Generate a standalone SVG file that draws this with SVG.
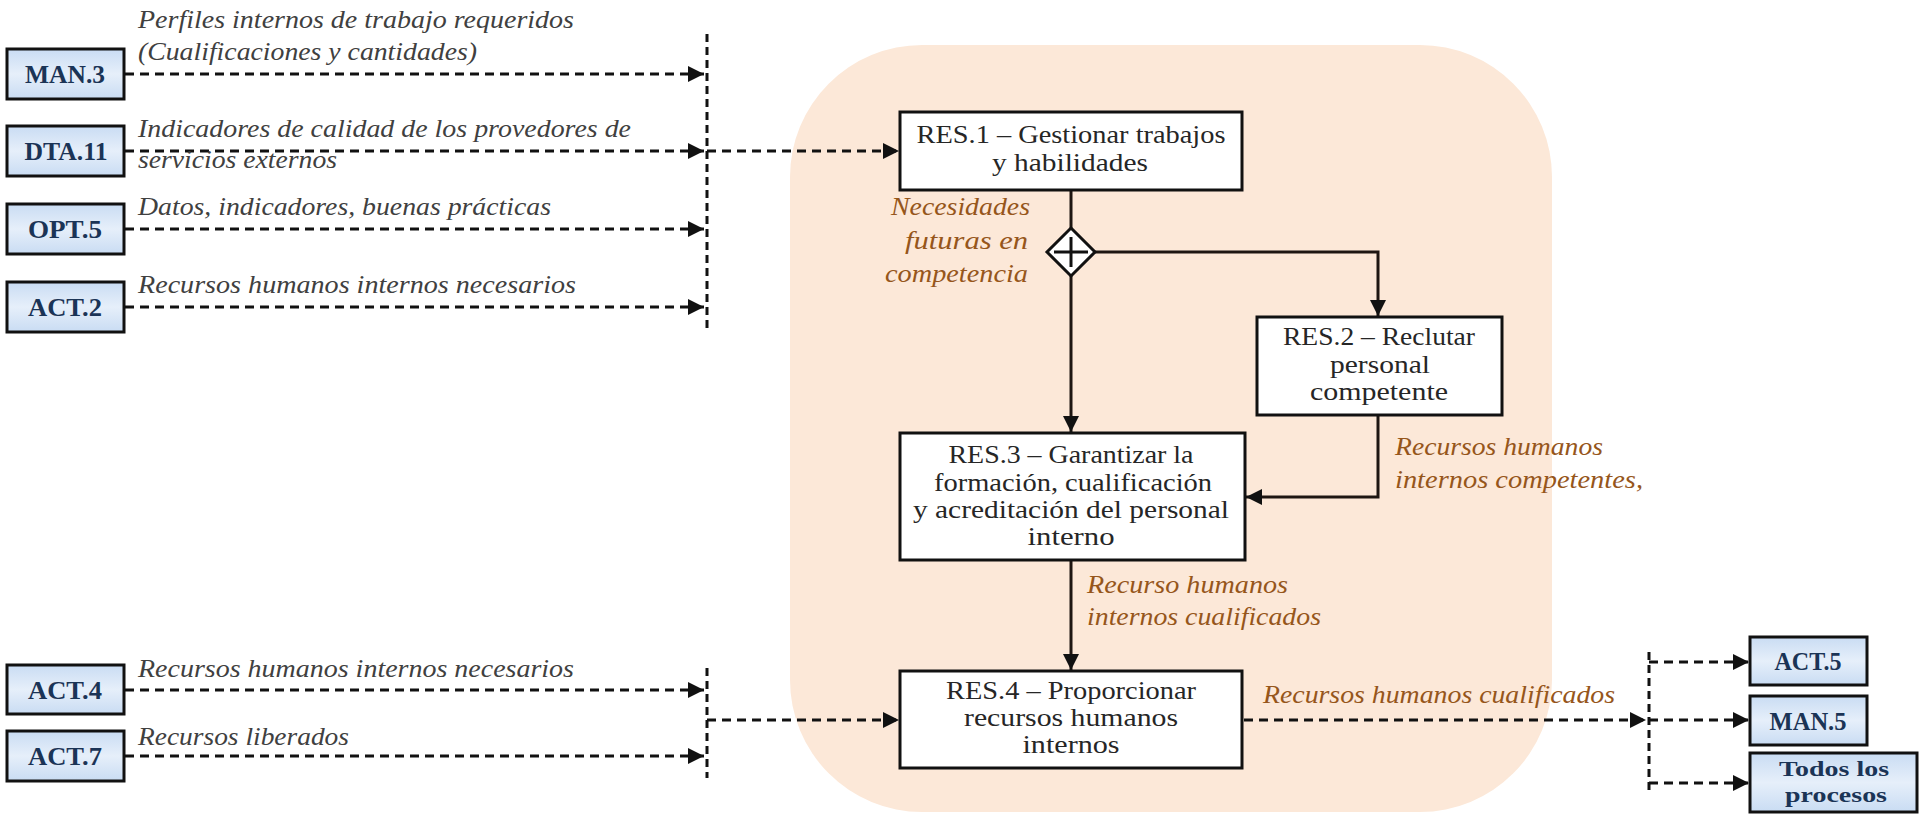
<svg xmlns="http://www.w3.org/2000/svg" width="1921" height="814" viewBox="0 0 1921 814">
  <defs>
    <linearGradient id="blueFill" x1="0" y1="0" x2="0" y2="1">
      <stop offset="0" stop-color="#c9dcf3"/>
      <stop offset="0.5" stop-color="#e6effa"/>
      <stop offset="1" stop-color="#c9dcf3"/>
    </linearGradient>
    <marker id="arrow" viewBox="0 0 10 10" refX="10" refY="5" markerWidth="16" markerHeight="16" markerUnits="userSpaceOnUse" orient="auto">
      <path d="M0,0 L10,5 L0,10 Z" fill="#111"/>
    </marker>
    <style>
      .ext rect { fill: url(#blueFill); stroke: #111; stroke-width: 3; }
      .ext text { font-family: "Liberation Serif", "DejaVu Serif", serif; font-weight: bold; font-size: 26px; fill: #1b3456; text-anchor: middle; }
      .ext text.small { font-size: 21px; }
      .proc rect { fill: #ffffff; stroke: #111; stroke-width: 3; }
      .proc text { font-family: "Liberation Serif", "DejaVu Serif", serif; font-size: 26px; fill: #262626; text-anchor: middle; }
      .flow { fill: none; stroke: #1e1612; stroke-width: 3; }
      .dash { fill: none; stroke: #111; stroke-width: 3; stroke-dasharray: 9 6; }
      .bus { fill: none; stroke: #111; stroke-width: 3; stroke-dasharray: 8 5; }
      .lbl { font-family: "Liberation Serif", "DejaVu Serif", serif; font-style: italic; font-size: 26px; fill: #404040; }
      .lbl-out { font-family: "Liberation Serif", "DejaVu Serif", serif; font-style: italic; font-size: 26px; fill: #96561b; }
    </style>
  </defs>

  <!-- process area background -->
  <rect id="process-area" x="790" y="45" width="762" height="767" rx="132" ry="132" fill="#fce8d8"/>

  <!-- connectors -->
  <g id="connectors">
    <!-- inputs on the left -->
    <line class="dash" x1="125" y1="74" x2="704" y2="74" marker-end="url(#arrow)"/>
    <line class="dash" x1="125" y1="151" x2="704" y2="151" marker-end="url(#arrow)"/>
    <line class="dash" x1="125" y1="229" x2="704" y2="229" marker-end="url(#arrow)"/>
    <line class="dash" x1="125" y1="307" x2="704" y2="307" marker-end="url(#arrow)"/>
    <line class="bus" x1="707" y1="34" x2="707" y2="331"/>
    <line class="dash" x1="707" y1="151" x2="899" y2="151" marker-end="url(#arrow)"/>

    <line class="dash" x1="125" y1="690" x2="704" y2="690" marker-end="url(#arrow)"/>
    <line class="dash" x1="125" y1="756" x2="704" y2="756" marker-end="url(#arrow)"/>
    <line class="bus" x1="707" y1="668" x2="707" y2="778"/>
    <line class="dash" x1="707" y1="720" x2="899" y2="720" marker-end="url(#arrow)"/>

    <!-- internal flow -->
    <line class="flow" x1="1071" y1="190" x2="1071" y2="228"/>
    <line class="flow" x1="1071" y1="276" x2="1071" y2="432" marker-end="url(#arrow)"/>
    <polyline class="flow" points="1095,252 1378,252 1378,316" marker-end="url(#arrow)"/>
    <polyline class="flow" points="1378,416 1378,497 1246,497" marker-end="url(#arrow)"/>
    <line class="flow" x1="1071" y1="561" x2="1071" y2="670" marker-end="url(#arrow)"/>

    <!-- outputs on the right -->
    <line class="dash" x1="1244" y1="720" x2="1646" y2="720" marker-end="url(#arrow)"/>
    <line class="bus" x1="1649" y1="652" x2="1649" y2="792"/>
    <line class="dash" x1="1649" y1="662" x2="1749" y2="662" marker-end="url(#arrow)"/>
    <line class="dash" x1="1649" y1="720" x2="1749" y2="720" marker-end="url(#arrow)"/>
    <line class="dash" x1="1649" y1="783" x2="1749" y2="783" marker-end="url(#arrow)"/>

    <!-- gateway -->
    <g id="gateway">
      <path d="M1071,228 L1095,252 L1071,276 L1047,252 Z" fill="#ffffff" stroke="#111" stroke-width="3"/>
      <line x1="1054" y1="252" x2="1088" y2="252" stroke="#111" stroke-width="3"/>
      <line x1="1071" y1="237" x2="1071" y2="267" stroke="#111" stroke-width="3"/>
    </g>
  </g>

  <!-- flow labels -->
  <g id="flow-labels">
    <text class="lbl" x="138" y="28" textLength="436" lengthAdjust="spacingAndGlyphs">Perfiles internos de trabajo requeridos</text>
    <text class="lbl" x="138" y="60" textLength="339" lengthAdjust="spacingAndGlyphs">(Cualificaciones y cantidades)</text>
    <text class="lbl" x="138" y="137" textLength="493" lengthAdjust="spacingAndGlyphs">Indicadores de calidad de los provedores de</text>
    <text class="lbl" x="138" y="168" textLength="199" lengthAdjust="spacingAndGlyphs">servicios externos</text>
    <text class="lbl" x="138" y="215" textLength="413" lengthAdjust="spacingAndGlyphs">Datos, indicadores, buenas prácticas</text>
    <text class="lbl" x="138" y="293" textLength="438" lengthAdjust="spacingAndGlyphs">Recursos humanos internos necesarios</text>
    <text class="lbl" x="138" y="677" textLength="436" lengthAdjust="spacingAndGlyphs">Recursos humanos internos necesarios</text>
    <text class="lbl" x="138" y="745" textLength="211" lengthAdjust="spacingAndGlyphs">Recursos liberados</text>

    <text class="lbl-out" x="1030" y="215" text-anchor="end" textLength="139" lengthAdjust="spacingAndGlyphs">Necesidades</text>
    <text class="lbl-out" x="1028" y="249" text-anchor="end" textLength="123" lengthAdjust="spacingAndGlyphs">futuras  en</text>
    <text class="lbl-out" x="1028" y="282" text-anchor="end" textLength="143" lengthAdjust="spacingAndGlyphs">competencia</text>
    <text class="lbl-out" x="1395" y="455" textLength="208" lengthAdjust="spacingAndGlyphs">Recursos humanos</text>
    <text class="lbl-out" x="1395" y="488" textLength="248" lengthAdjust="spacingAndGlyphs">internos competentes,</text>
    <text class="lbl-out" x="1087" y="593" textLength="201" lengthAdjust="spacingAndGlyphs">Recurso humanos</text>
    <text class="lbl-out" x="1087" y="625" textLength="234" lengthAdjust="spacingAndGlyphs">internos cualificados</text>
    <text class="lbl-out" x="1263" y="703" textLength="352" lengthAdjust="spacingAndGlyphs">Recursos humanos cualificados</text>
  </g>

  <!-- external processes -->
  <g id="MAN3" class="ext">
    <rect x="7" y="49" width="117" height="50"/>
    <text x="65" y="83" textLength="80" lengthAdjust="spacingAndGlyphs">MAN.3</text>
  </g>
  <g id="DTA11" class="ext">
    <rect x="7" y="126" width="117" height="50"/>
    <text x="66" y="160" textLength="83" lengthAdjust="spacingAndGlyphs">DTA.11</text>
  </g>
  <g id="OPT5" class="ext">
    <rect x="7" y="204" width="117" height="50"/>
    <text x="65" y="238" textLength="74" lengthAdjust="spacingAndGlyphs">OPT.5</text>
  </g>
  <g id="ACT2" class="ext">
    <rect x="7" y="282" width="117" height="50"/>
    <text x="65" y="316" textLength="74" lengthAdjust="spacingAndGlyphs">ACT.2</text>
  </g>
  <g id="ACT4" class="ext">
    <rect x="7" y="665" width="117" height="49"/>
    <text x="65" y="699" textLength="74" lengthAdjust="spacingAndGlyphs">ACT.4</text>
  </g>
  <g id="ACT7" class="ext">
    <rect x="7" y="731" width="117" height="50"/>
    <text x="65" y="765" textLength="74" lengthAdjust="spacingAndGlyphs">ACT.7</text>
  </g>
  <g id="ACT5" class="ext">
    <rect x="1750" y="637" width="117" height="48"/>
    <text x="1808" y="670" textLength="67" lengthAdjust="spacingAndGlyphs">ACT.5</text>
  </g>
  <g id="MAN5" class="ext">
    <rect x="1750" y="696" width="117" height="49"/>
    <text x="1808" y="730" textLength="77" lengthAdjust="spacingAndGlyphs">MAN.5</text>
  </g>
  <g id="todos-procesos" class="ext">
    <rect x="1750" y="753" width="167" height="59"/>
    <text class="small" x="1834" y="776" textLength="110" lengthAdjust="spacingAndGlyphs">Todos los</text>
    <text class="small" x="1836" y="802" textLength="102" lengthAdjust="spacingAndGlyphs">procesos</text>
  </g>

  <!-- RES processes -->
  <g id="RES1" class="proc">
    <rect x="900" y="112" width="342" height="78"/>
    <text x="1071" y="143" textLength="309" lengthAdjust="spacingAndGlyphs">RES.1 – Gestionar trabajos</text>
    <text x="1070" y="171" textLength="156" lengthAdjust="spacingAndGlyphs">y habilidades</text>
  </g>
  <g id="RES2" class="proc">
    <rect x="1257" y="317" width="245" height="98"/>
    <text x="1379" y="345" textLength="192" lengthAdjust="spacingAndGlyphs">RES.2 – Reclutar</text>
    <text x="1380" y="373" textLength="100" lengthAdjust="spacingAndGlyphs">personal</text>
    <text x="1379" y="400" textLength="138" lengthAdjust="spacingAndGlyphs">competente</text>
  </g>
  <g id="RES3" class="proc">
    <rect x="900" y="433" width="345" height="127"/>
    <text x="1071" y="463" textLength="245" lengthAdjust="spacingAndGlyphs">RES.3 – Garantizar la</text>
    <text x="1073" y="491" textLength="278" lengthAdjust="spacingAndGlyphs">formación, cualificación</text>
    <text x="1071" y="518" textLength="316" lengthAdjust="spacingAndGlyphs">y acreditación del personal</text>
    <text x="1071" y="545" textLength="87" lengthAdjust="spacingAndGlyphs">interno</text>
  </g>
  <g id="RES4" class="proc">
    <rect x="900" y="671" width="342" height="97"/>
    <text x="1071" y="699" textLength="250" lengthAdjust="spacingAndGlyphs">RES.4 – Proporcionar</text>
    <text x="1071" y="726" textLength="214" lengthAdjust="spacingAndGlyphs">recursos humanos</text>
    <text x="1071" y="753" textLength="97" lengthAdjust="spacingAndGlyphs">internos</text>
  </g>
</svg>
